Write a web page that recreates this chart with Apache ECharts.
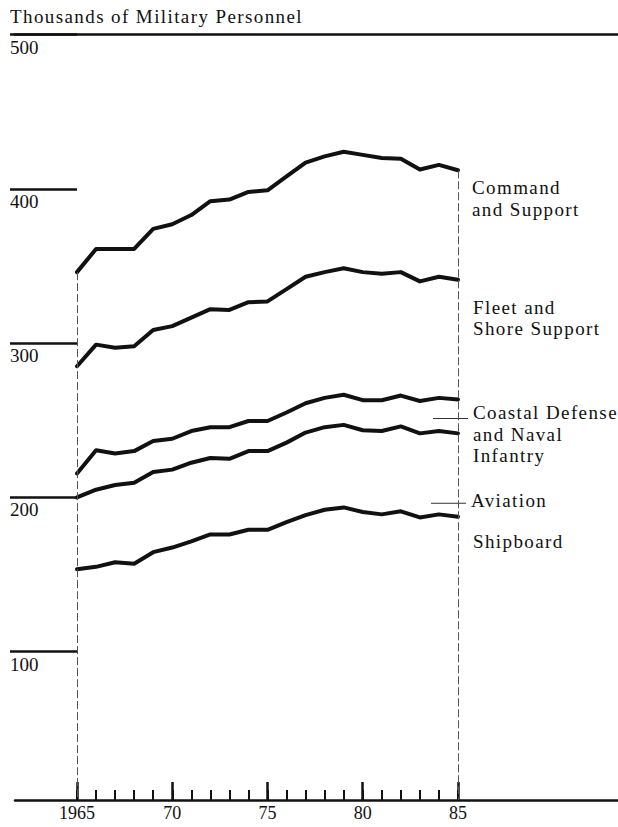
<!DOCTYPE html>
<html>
<head>
<meta charset="utf-8">
<script src="https://cdn.jsdelivr.net/npm/echarts@6/dist/echarts.min.js"></script>
<style>
  html, body { margin: 0; padding: 0; background: #fff; }
  #chart { width: 618px; height: 827px; }
  #chart text[style*="Times"] { letter-spacing: 1.4px; }
</style>
</head>
<body>
<div id="chart"></div>
<script>
// ---- Data (thousands of military personnel) ----
const years = [1965, 1966, 1967, 1968, 1969, 1970, 1971, 1972, 1973, 1974, 1975,
               1976, 1977, 1978, 1979, 1980, 1981, 1982, 1983, 1984, 1985];
const commandSupport = [346, 361, 361, 361, 374, 377, 383, 392, 393, 398, 399,
                        408, 417, 421, 424, 422, 420, 419.5, 412.5, 415.5, 412];
const fleetShore = [285, 299, 297, 298, 308.5, 311, 316.5, 322, 321.5, 326.5, 327,
                    335, 343, 346, 348.5, 346, 345, 346, 340, 343, 341];
const coastalDefense = [215.5, 230.5, 228.5, 230, 236.5, 238, 243, 245.5, 245.5, 249.5, 249.5,
                        255, 261, 264.5, 266.5, 263, 263, 266, 262.5, 264.5, 263.5];
const aviation = [200, 205, 208, 209.5, 216.5, 218, 222.5, 225.5, 225, 230, 230,
                  235.5, 242, 245.5, 247, 243.5, 243, 246, 241.5, 243, 241.5];
const shipboard = [153.5, 155, 158, 157, 164.5, 167.5, 171.5, 176, 176, 179, 179,
                   184, 188.5, 192, 193.5, 190.5, 189, 191, 187, 189, 187.5];
const majorYears = [1965, 1970, 1975, 1980, 1985];
const yTicks = [100, 200, 300, 400, 500];
const titleText = 'Thousands of Military Personnel';

// ---- Styling ----
const INK = '#111';
const NUM_FONT = 'Liberation Serif';
const TXT_FONT = 'Liberation Serif, Times New Roman';
const AXIS_BASE = 4; // value level where the drawn baseline sits

function pairs(vals) { return years.map((y, i) => [y, vals[i]]); }

const richText = {
  lead: { width: 35, height: 1, lineHeight: 1, backgroundColor: '#333', verticalAlign: 'bottom',
          fontFamily: TXT_FONT, fontSize: 1 },
  pad: { width: 35, height: 1, lineHeight: 1, fontFamily: TXT_FONT, fontSize: 1 },
  gap: { height: 1, lineHeight: 4.75, fontFamily: TXT_FONT, fontSize: 1 },
  t: { fontFamily: TXT_FONT, fontSize: 19, color: INK, lineHeight: 21.5, padding: [0, 0, 0, 5] },
  t12: { fontFamily: TXT_FONT, fontSize: 19, color: INK, lineHeight: 12, padding: [0, 0, 0, 5] },
  t7: { fontFamily: TXT_FONT, fontSize: 19, color: INK, lineHeight: 7, padding: [0, 0, 0, 5] }
};

function makeSeries(name, vals, labelText, offset, extra) {
  return Object.assign({
    name: name,
    type: 'line',
    data: pairs(vals),
    xAxisIndex: 0,
    yAxisIndex: 0,
    symbol: 'none',
    silent: true,
    lineStyle: { color: INK, width: 4, join: 'round', cap: 'round' },
    endLabel: {
      show: true,
      formatter: labelText,
      distance: 0,
      offset: offset,
      align: 'left',
      verticalAlign: 'middle',
      fontFamily: TXT_FONT,
      fontSize: 19,
      lineHeight: 21.5,
      color: INK,
      rich: richText
    }
  }, extra || {});
}

const chart = echarts.init(document.getElementById('chart'), null, { renderer: 'svg' });

const n = years.length - 1;
const option = {
  animation: false,
  backgroundColor: '#fff',
  title: {
    text: titleText,
    left: 10,
    top: 7,
    padding: 0,
    textStyle: { fontFamily: TXT_FONT, fontSize: 19, fontWeight: 'normal', color: INK }
  },
  grid: { left: 15, right: 0, top: 34.5, bottom: 21, containLabel: false, outerBoundsMode: 'none' },
  xAxis: [
    {
      type: 'value', position: 'bottom', offset: -6,
      min: 1961.745, max: 1993.4,
      axisLine: { show: true, lineStyle: { color: INK, width: 2.5 } },
      axisTick: { show: true, inside: true, length: 10, customValues: years, lineStyle: { color: INK, width: 2 } },
      axisLabel: {
        show: true, customValues: majorYears, margin: 4,
        fontFamily: NUM_FONT, fontSize: 18, color: INK,
        formatter: v => (v === years[0] ? String(v) : String(v).slice(2))
      },
      splitLine: { show: false }
    },
    {
      type: 'value', position: 'bottom', offset: -6,
      min: 1961.745, max: 1993.4,
      axisLine: { show: false },
      axisTick: { show: true, inside: true, length: 18, customValues: majorYears, lineStyle: { color: INK, width: 2.5 } },
      axisLabel: { show: false },
      splitLine: { show: false }
    },
    {
      type: 'value', position: 'top',
      min: 1961.745, max: 1993.4,
      axisLine: { show: true, lineStyle: { color: INK, width: 2.5 } },
      axisTick: { show: false },
      axisLabel: { show: false },
      splitLine: { show: false }
    }
  ],
  yAxis: {
    type: 'value', min: 0, max: 500, position: 'left', offset: -62,
    axisLine: { show: false },
    axisTick: { show: true, inside: false, length: 67, customValues: yTicks, lineStyle: { color: INK, width: 2.5 } },
    axisLabel: {
      show: true, customValues: yTicks, margin: 67, align: 'left', verticalAlign: 'top',
      padding: [3, 0, 0, 0],
      fontFamily: NUM_FONT, fontSize: 19, color: INK
    },
    splitLine: { show: false }
  },
  series: [
    makeSeries('Command and Support', commandSupport, 'Command\nand Support', [14, 28], {
      markLine: {
        silent: true,
        symbol: 'none',
        label: { show: false },
        lineStyle: { color: '#555', width: 1, type: [8, 3] },
        data: [
          [{ coord: [years[0], commandSupport[0]] }, { coord: [years[0], AXIS_BASE] }],
          [{ coord: [years[n], commandSupport[n]] }, { coord: [years[n], AXIS_BASE] }]
        ]
      },
      z: 3
    }),
    makeSeries('Fleet and Shore Support', fleetShore, 'Fleet and\nShore Support', [15, 38]),
    makeSeries('Coastal Defense and Naval Infantry', coastalDefense,
      '{lead|\u00a0}{t12|Coastal Defense}\n{gap|\u00a0}\n{pad|\u00a0}{t|and Naval}\n{pad|\u00a0}{t|Infantry}', [-25, 37.4]),
    makeSeries('Aviation', aviation, '{lead|\u00a0}{t7|Aviation}', [-27, 67]),
    makeSeries('Shipboard', shipboard, 'Shipboard', [15, 25])
  ]
};
chart.setOption(option);
</script>
</body>
</html>
